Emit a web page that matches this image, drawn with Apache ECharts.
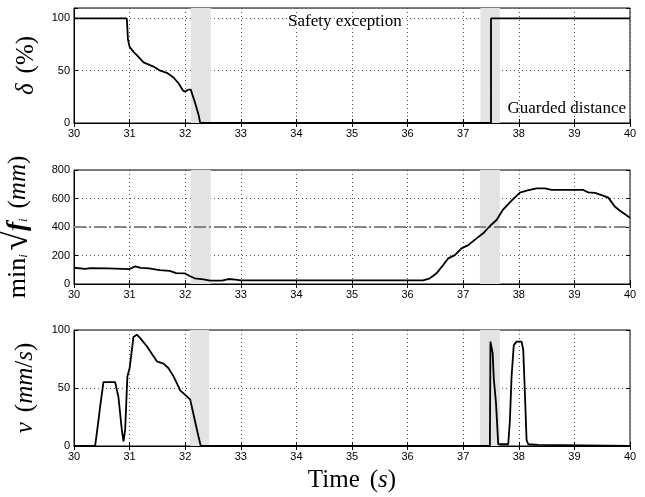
<!DOCTYPE html>
<html><head><meta charset="utf-8">
<script src="https://cdn.jsdelivr.net/npm/echarts@6/dist/echarts.min.js"></script>
<style>html,body{margin:0;padding:0;background:#fff}#c{width:645px;height:497px}</style>
</head><body><div id="c"></div>
<script>
// ---- data ----
var xTicks = [30, 31, 32, 33, 34, 35, 36, 37, 38, 39, 40];
var deltaT = [30, 30.95, 30.97, 31.0, 31.07, 31.13, 31.25, 31.43, 31.55, 31.67, 31.79, 31.88, 31.96, 32.0, 32.06, 32.10, 32.13, 32.18, 32.24, 32.27, 37.50, 37.50, 40];
var deltaV = [100, 100, 80, 73, 68, 65, 58, 54, 50, 48, 43.5, 38, 31, 30, 32, 32, 27, 19, 8, 0, 0, 100, 100];
var fT = [30, 30.2, 30.3, 30.6, 31.0, 31.1, 31.2, 31.35, 31.54, 31.72, 31.84, 31.99, 32.08, 32.17, 32.33, 32.45, 32.66, 32.78, 32.9, 33.0, 36.28, 36.4, 36.52, 36.64, 36.73, 36.85, 36.97, 37.09, 37.24, 37.36, 37.48, 37.6, 37.72, 37.87, 38.02, 38.14, 38.32, 38.47, 38.59, 39.16, 39.25, 39.37, 39.49, 39.61, 39.73, 39.82, 40];
var fV = [114, 106, 112, 110, 105, 124, 113, 110, 98, 92, 76, 75, 56, 40, 33, 24, 24, 35, 30, 25, 26, 40, 75, 133, 180, 203, 250, 273, 320, 356, 407, 449, 524, 585, 641, 655, 671, 671, 660, 660, 643, 640, 624, 606, 542, 514, 465];
var fThreshold = 400;
var vT = [30, 30.38, 30.44, 30.47, 30.53, 30.74, 30.8, 30.86, 30.89, 30.92, 30.96, 31.0, 31.07, 31.13, 31.19, 31.31, 31.49, 31.61, 31.7, 31.79, 31.91, 32.0, 32.09, 32.16, 32.24, 32.28, 37.48, 37.49, 37.53, 37.55, 37.59, 37.63, 37.81, 37.84, 37.87, 37.91, 37.96, 38.05, 38.08, 38.11, 38.14, 38.17, 38.35, 38.38, 40];
var vV = [0, 0, 22, 34, 55, 55, 42, 14, 4, 14, 60, 67, 94, 96, 93, 86, 73, 71, 67, 60, 48, 44, 40, 25, 8, 0, 0, 90, 80, 58, 37, 1.5, 1.5, 22, 60, 87, 90, 90, 83, 45, 5, 1.5, 1, 0, 0];
var shadeTop = [[32.1, 32.46], [37.31, 37.66]];
var shadeMid = [[32.1, 32.46], [37.3, 37.66]];
var shadeBot = [[32.09, 32.43], [37.3, 37.66]];
var yTicksTop = [0, 50, 100];
var yTicksMid = [0, 200, 400, 600, 800];
var yTicksBot = [0, 50, 100];

// ---- chart ----
var SERIF = 'Liberation Serif';
var SANS = 'Liberation Sans';
function pairs(t, v) { return t.map(function (x, i) { return [x, v[i]]; }); }
function areas(s) { return s.map(function (a) { return [{ xAxis: a[0] }, { xAxis: a[1] }]; }); }

var grids = [
  { left: 74, right: 15, top: 8, height: 115 },
  { left: 74, right: 15, top: 170, height: 114 },
  { left: 74, right: 15, top: 330, height: 116 }
];
grids.forEach(function (g) {
  g.show = true; g.borderColor = '#000'; g.borderWidth = 1; g.backgroundColor = 'transparent';
  g.containLabel = false; g.outerBoundsMode = 'none';
});

var dotted = { show: true, lineStyle: { color: '#555', type: [1, 3], width: 1 } };
var xAxes = [], yAxes = [];
[0, 1, 2].forEach(function (k) {
  var main = {
    type: 'value', gridIndex: k, min: xTicks[0], max: xTicks[xTicks.length - 1], interval: 1,
    axisLine: { show: true, lineStyle: { color: '#000', width: 1 } },
    axisTick: { show: true, inside: true, length: 4, lineStyle: { color: '#000' } },
    axisLabel: { show: true, margin: 5, fontFamily: SANS, fontSize: 11, color: '#000' },
    splitLine: dotted
  };
  if (k === 2) {
    main.name = '{n|Time}   {p|(}{i|s}{p|)}';
    main.nameLocation = 'middle';
    main.nameGap = 22;
    main.nameTextStyle = { rich: {
      n: { fontFamily: SERIF, fontSize: 25, color: '#000' },
      p: { fontFamily: SERIF, fontSize: 25, color: '#000' },
      i: { fontFamily: SERIF, fontStyle: 'italic', fontSize: 25, color: '#000' }
    } };
  }
  xAxes.push(main);
  xAxes.push({
    type: 'value', gridIndex: k, position: 'top', min: xTicks[0], max: xTicks[xTicks.length - 1], interval: 1,
    axisLine: { show: false }, axisLabel: { show: false }, splitLine: { show: false },
    axisTick: { show: true, inside: true, length: 4, lineStyle: { color: '#000' } }
  });
});

var yConf = [
  { min: 0, max: 110, interval: 50, ticks: yTicksTop,
    name: '{i|δ}   {p|(%)}', gap: 35 },
  { min: 0, max: 800, interval: 200, ticks: yTicksMid,
    name: '{m|min}{s|i} {r|√}{f|f}{s|i}   {p|(}{i|mm}{p|)}', gap: 38 },
  { min: 0, max: 100, interval: 50, ticks: yTicksBot,
    name: '{i|v}   {p|(}{i|mm}{p|/}{i|s}{p|)}', gap: 36 }
];
var richY = {
  i: { fontFamily: SERIF, fontStyle: 'italic', fontSize: 25, color: '#000' },
  p: { fontFamily: SERIF, fontSize: 25, color: '#000' },
  m: { fontFamily: SERIF, fontSize: 26, color: '#000' },
  r: { fontFamily: SERIF, fontSize: 36, color: '#000' },
  s: { fontFamily: SERIF, fontStyle: 'italic', fontSize: 13, color: '#000', padding: [12, 0, 0, 0] },
  f: { fontFamily: SERIF, fontStyle: 'italic', fontWeight: 'bold', fontSize: 27, color: '#000' }
};
yConf.forEach(function (c, k) {
  yAxes.push({
    type: 'value', gridIndex: k, min: c.min, max: c.max, interval: c.interval,
    name: c.name, nameLocation: 'middle', nameGap: c.gap, nameRotate: 90,
    nameTextStyle: { rich: richY },
    axisLine: { show: true, lineStyle: { color: '#000', width: 1 } },
    axisTick: { show: true, inside: true, length: 4, lineStyle: { color: '#000' } },
    axisLabel: { show: true, margin: 4, fontFamily: SANS, fontSize: 11, color: '#000',
      formatter: function (v) { return c.ticks.indexOf(v) >= 0 ? String(v) : ''; } },
    splitLine: dotted
  });
  yAxes.push({
    type: 'value', gridIndex: k, position: 'right', min: c.min, max: c.max, interval: c.interval,
    axisLine: { show: false }, axisLabel: { show: false }, splitLine: { show: false },
    axisTick: { show: true, inside: true, length: 4, lineStyle: { color: '#000' } }
  });
});

function lineSeries(k, t, v, shade) {
  return {
    type: 'line', xAxisIndex: 2 * k, yAxisIndex: 2 * k, data: pairs(t, v),
    showSymbol: false, symbol: 'none', lineStyle: { color: '#000', width: 1.8 },
    z: 5,
    markArea: { silent: true, itemStyle: { color: '#e3e3e3' }, data: areas(shade), z: 1 }
  };
}
var s1 = lineSeries(0, deltaT, deltaV, shadeTop);
var s2 = lineSeries(1, fT, fV, shadeMid);
s2.markLine = { silent: true, symbol: ['none', 'none'], label: { show: false },
  lineStyle: { color: '#858585', type: [12, 3, 2, 3], width: 2 },
  data: [{ yAxis: fThreshold }] };
var s3 = lineSeries(2, vT, vV, shadeBot);

var chart = echarts.init(document.getElementById('c'), null, { renderer: 'canvas' });
chart.setOption({
  animation: false,
  backgroundColor: '#fff',
  grid: grids,
  xAxis: xAxes,
  yAxis: yAxes,
  series: [s1, s2, s3],
  graphic: [
    { type: 'text', left: 288, top: 13, style: { text: 'Safety exception', fontFamily: SERIF, fontSize: 17, fill: '#000' }, z: 10 },
    { type: 'text', right: 19, top: 100, style: { text: 'Guarded distance', fontFamily: SERIF, fontSize: 17, fill: '#000' }, z: 10 }
  ]
});
</script></body></html>
